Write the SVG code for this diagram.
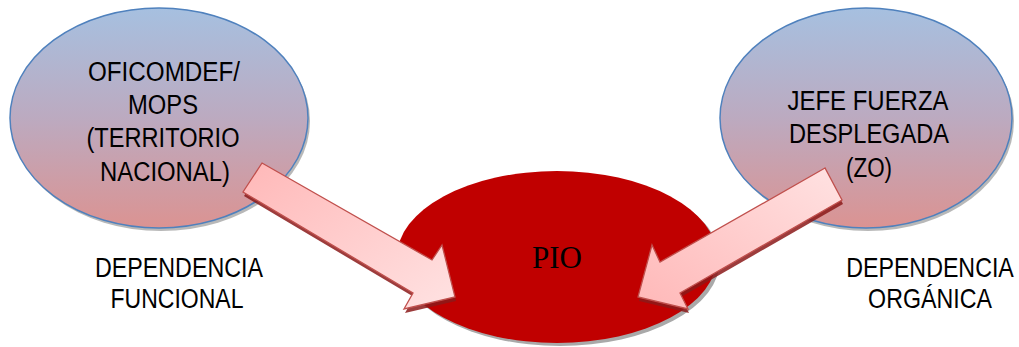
<svg xmlns="http://www.w3.org/2000/svg" width="1019" height="347" viewBox="0 0 1019 347">
<defs>
<linearGradient id="eg" x1="0" y1="0" x2="0" y2="1">
<stop offset="0" stop-color="#A6C0E0"/>
<stop offset="0.5" stop-color="#BCAAC0"/>
<stop offset="1" stop-color="#DB9392"/>
</linearGradient>
<linearGradient id="ag" x1="0" y1="0" x2="1" y2="1">
<stop offset="0" stop-color="#FFB8B8"/>
<stop offset="1" stop-color="#FFE2E2"/>
</linearGradient>
<linearGradient id="ag2" x1="1" y1="0" x2="0" y2="1">
<stop offset="0" stop-color="#FFE2E2"/>
<stop offset="1" stop-color="#FFB8B8"/>
</linearGradient>
<style>
.ell{fill:url(#eg);stroke:#4F81BD;stroke-width:1.5}
.sh{fill:#9a9a9a;opacity:0.7}
.t{font-family:"Liberation Sans",Arial,sans-serif;font-size:27px;fill:#000;text-anchor:middle}
.arr{stroke:#C0504D;stroke-width:1.3;stroke-linejoin:miter}
.ash{fill:#8B1A1A;opacity:0.85}
</style>
</defs>
<rect width="1019" height="347" fill="#fff"/>
<g id="node-oficomdef">
<ellipse class="sh" cx="161" cy="121" rx="149" ry="110"/>
<ellipse class="ell" cx="159" cy="118" rx="149" ry="110"/>
<text class="t"><tspan x="164" y="81" textLength="152" lengthAdjust="spacingAndGlyphs">OFICOMDEF/</tspan><tspan x="163" y="114" textLength="70" lengthAdjust="spacingAndGlyphs">MOPS</tspan><tspan x="163" y="147" textLength="153" lengthAdjust="spacingAndGlyphs">(TERRITORIO</tspan><tspan x="165" y="181" textLength="130" lengthAdjust="spacingAndGlyphs">NACIONAL)</tspan></text>
</g>
<g id="node-jefe">
<ellipse class="sh" cx="868" cy="121" rx="146" ry="110"/>
<ellipse class="ell" cx="866" cy="118" rx="146" ry="110"/>
<text class="t"><tspan x="868" y="110" textLength="161" lengthAdjust="spacingAndGlyphs">JEFE FUERZA</tspan><tspan x="869" y="143" textLength="160" lengthAdjust="spacingAndGlyphs">DESPLEGADA</tspan><tspan x="869" y="177" textLength="46" lengthAdjust="spacingAndGlyphs">(ZO)</tspan></text>
</g>
<g id="node-pio">
<ellipse cx="560" cy="260" rx="160" ry="86" fill="#a9a9a9"/>
<ellipse cx="557" cy="257" rx="160" ry="86" fill="#C00000"/>
<text x="557" y="268" font-family="'Liberation Serif','Times New Roman',serif" font-size="31" text-anchor="middle" fill="#000" textLength="50" lengthAdjust="spacingAndGlyphs">PIO</text>
</g>
<g id="label-funcional">
<text class="t"><tspan x="179" y="277" textLength="168" lengthAdjust="spacingAndGlyphs">DEPENDENCIA</tspan><tspan x="177" y="308" textLength="133" lengthAdjust="spacingAndGlyphs">FUNCIONAL</tspan></text>
</g>
<g id="label-organica" transform="translate(930,0) scale(0.86,1)">
<text class="t"><tspan x="0" y="277">DEPENDENCIA</tspan><tspan x="0" y="308">ORGÁNICA</tspan></text>
</g>
<g id="connectors">
<polygon class="ash" points="262,166 432,263 442,248 455,300 404,312 413,296 243,195" transform="translate(1,1)"/>
<polygon class="arr" fill="url(#ag)" points="262,163 432,260 442,245 455,297 404,309 413,293 243,192"/>
<polygon class="ash" points="825,171 660,265 652,248 638,300 688,312 680,296 842,203" transform="translate(1,1)"/>
<polygon class="arr" fill="url(#ag2)" points="825,168 660,262 652,245 638,297 688,309 680,293 842,200"/>
</g>
</svg>
